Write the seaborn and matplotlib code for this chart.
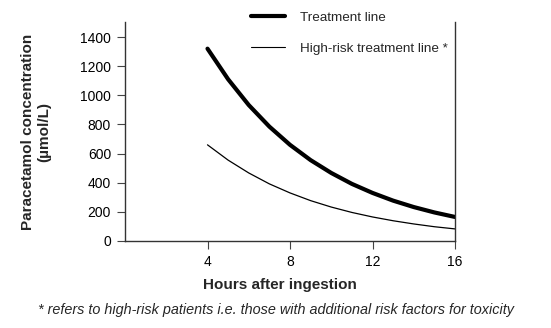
import matplotlib
matplotlib.use("Agg")
import matplotlib.pyplot as plt
import seaborn as sns
import pandas as pd
from matplotlib.lines import Line2D

hours = [4, 5, 6, 7, 8, 9, 10, 11, 12, 13, 14, 15, 16]
treatment = [1320, 1110, 933, 785, 660, 555, 467, 392, 330, 277, 233, 196, 165]
high_risk = [660, 555, 467, 392, 330, 277, 233, 196, 165, 139, 117, 98, 83]
x_ticks = [4, 8, 12, 16]
y_ticks = [0, 200, 400, 600, 800, 1000, 1200, 1400]

df = pd.DataFrame({"Hours": hours * 2,
                   "Conc": treatment + high_risk,
                   "Line": ["Treatment line"] * len(hours) + ["High-risk treatment line *"] * len(hours)})

sns.set_theme(style="white")
plt.rcParams['font.family'] = ['Liberation Sans', 'DejaVu Sans']

fig = plt.figure(figsize=(5.51, 3.28), dpi=100)
ax = fig.add_axes([125/551, 1 - 241/328, 330/551, 219/328])

sns.lineplot(data=df, x="Hours", y="Conc", hue="Line", size="Line",
             sizes={"Treatment line": 3.0, "High-risk treatment line *": 0.9},
             palette={"Treatment line": "black", "High-risk treatment line *": "black"},
             ax=ax, legend=False)

ax.set_xlim(0, 16)
ax.set_ylim(0, 1503)
ax.set_xticks(x_ticks)
ax.set_yticks(y_ticks)
ax.tick_params(axis='both', which='both', direction='out', length=6, width=0.8,
               color='#444444', labelsize=10, labelcolor='black', bottom=True, left=True, pad=4)
ax.spines['top'].set_visible(False)
for s in ['left', 'bottom', 'right']:
    ax.spines[s].set_color('#333333')
    ax.spines[s].set_linewidth(1.0)

ax.set_xlabel("Hours after ingestion", fontsize=11, fontweight='bold')
ax.xaxis.set_label_coords(0.47, -0.168)
ax.set_ylabel("Paracetamol concentration\n(µmol/L)", fontsize=11, fontweight='bold', labelpad=21)

handles = [Line2D([], [], color='black', lw=3.0), Line2D([], [], color='black', lw=0.8)]
fig.legend(handles, ["Treatment line", "High-risk treatment line *"],
           loc='upper left', bbox_to_anchor=(239/551, 1 + 1/328), frameon=False,
           fontsize=9.7, handlelength=2.5, handletextpad=1.1, labelspacing=1.4)

fig.text(0.5, 1 - 310/328, "* refers to high-risk patients i.e. those with additional risk factors for toxicity",
         ha='center', va='center', fontsize=10.4, style='italic')

fig.savefig("out.png", dpi=100)
